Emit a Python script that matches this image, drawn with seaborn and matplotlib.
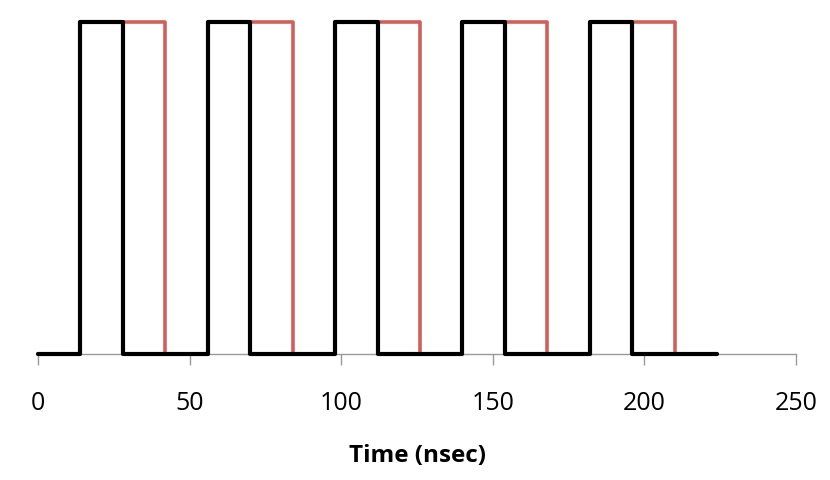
import seaborn as sns
import matplotlib.pyplot as plt
import pandas as pd

# tempi di commutazione (nsec) e livelli dei due segnali
black_t = [0, 14, 28, 56, 70, 98, 112, 140, 154, 182, 196, 224]
black_v = [0, 1, 0, 1, 0, 1, 0, 1, 0, 1, 0, 0]
red_t = [0, 14, 42, 56, 84, 98, 126, 140, 168, 182, 210, 224]
red_v = [0, 1, 0, 1, 0, 1, 0, 1, 0, 1, 0, 0]
xticks = [0, 50, 100, 150, 200, 250]

sns.set_style("white")
plt.rcParams['font.family'] = ['Open Sans', 'DejaVu Sans']

fig = plt.figure(figsize=(8.3, 4.8), dpi=100)
ax = fig.add_axes([38 / 830, 1 - 354 / 480, (796 - 38) / 830, (354 - 22) / 480])

red = pd.DataFrame({"t": red_t, "v": red_v})
black = pd.DataFrame({"t": black_t, "v": black_v})
sns.lineplot(data=red, x="t", y="v", ax=ax, color="#D0605C", linewidth=2.6,
             drawstyle="steps-post", clip_on=False, zorder=2)
sns.lineplot(data=black, x="t", y="v", ax=ax, color="black", linewidth=3.0,
             drawstyle="steps-post", clip_on=False, zorder=3)

ax.set_xlim(0, 250)
ax.set_ylim(0, 1)
ax.set_xticks(xticks)
ax.set_xticklabels([str(x) for x in xticks], fontsize=18, color="black")
ax.set_yticks([])
ax.set_ylabel("")
ax.set_xlabel("Time (nsec)", fontsize=17.5, fontweight="bold", color="black", labelpad=20)
ax.tick_params(axis="x", direction="out", length=8, width=1, color="#999999", pad=19,
               bottom=True)
for s in ["top", "left", "right"]:
    ax.spines[s].set_visible(False)
ax.spines["bottom"].set_color("#999999")
ax.spines["bottom"].set_linewidth(1)
ax.spines["bottom"].set_zorder(1)

fig.savefig("out.png", dpi=100)
